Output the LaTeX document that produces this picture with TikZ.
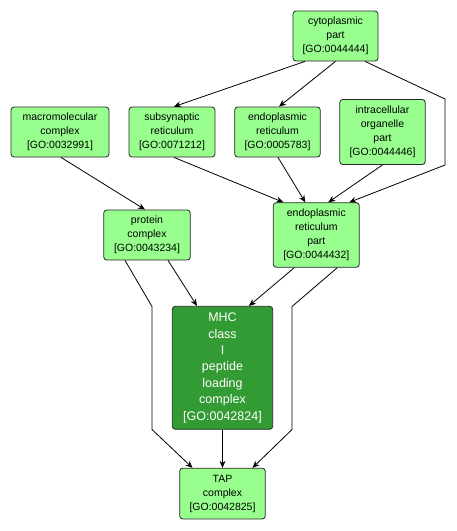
\documentclass[tikz,border=0pt]{standalone}
\usepackage{fontspec}
\setmainfont{Liberation Sans}
\usetikzlibrary{arrows.meta,calc}
\definecolor{lgreen}{RGB}{152,255,143}
\definecolor{dgreen}{RGB}{51,155,51}
\tikzset{
  goterm/.style={draw=black!85, line width=0.8pt, rounded corners=3pt, fill=lgreen,
    align=center, inner sep=0pt, font=\fontsize{10.5}{14}\selectfont},
  goedge/.style={draw=black, line width=0.8pt, -{Stealth[length=7pt,width=6pt]}},
}
\begin{document}
\begin{tikzpicture}[x=1pt,y=-1pt]
\useasboundingbox (0,0) rectangle (456,531);
\node[goterm, minimum width=85pt, minimum height=50pt] (cyto) at (335.5,36) {cytoplasmic\\ part\\ {[GO:0044444]}};
\node[goterm, minimum width=98pt, minimum height=50pt] (macro) at (60,132) {macromolecular\\ complex\\ {[GO:0032991]}};
\node[goterm, minimum width=86pt, minimum height=50pt] (subsyn) at (172,132) {subsynaptic\\ reticulum\\ {[GO:0071212]}};
\node[goterm, minimum width=85.5pt, minimum height=50pt] (er) at (277.5,132) {endoplasmic\\ reticulum\\ {[GO:0005783]}};
\node[goterm, minimum width=85.5pt, minimum height=65pt] (intra) at (382.5,132) {intracellular\\ organelle\\ part\\ {[GO:0044446]}};
\node[goterm, minimum width=86.5pt, minimum height=50pt] (prot) at (147,235) {protein\\ complex\\ {[GO:0043234]}};
\node[goterm, minimum width=86pt, minimum height=64.6pt] (erpart) at (316.3,235) {endoplasmic\\ reticulum\\ part\\ {[GO:0044432]}};
\node[goterm, fill=dgreen, text=white, minimum width=100.4pt, minimum height=123pt,
  font=\fontsize{12.5}{16.4}\selectfont] (mhc) at (222.5,367.8) {MHC\\ class\\ I\\ peptide\\ loading\\ complex\\ {[GO:0042824]}};
\node[goterm, minimum width=85.6pt, minimum height=50.7pt] (tap) at (222.5,493.6) {TAP\\ complex\\ {[GO:0042825]}};

\coordinate (c1) at (445,99);
\coordinate (c2) at (445,165);
\coordinate (p1) at (152,306.5);
\coordinate (p2) at (152,429.5);
\coordinate (e1) at (292,306.5);
\coordinate (e2) at (292,429.5);

\draw[goedge] ([xshift=-30.5pt]cyto.south) -- ([xshift=2pt]subsyn.north);
\draw[goedge] (cyto.south) -- ([xshift=1.5pt]er.north);
\draw[goedge] ([xshift=29.5pt]cyto.south) -- (c1) -- (c2) -- ([xshift=33pt]erpart.north);
\draw[goedge] ([xshift=1pt]macro.south) -- ([xshift=-2pt]prot.north);
\draw[goedge] ([xshift=2pt]subsyn.south) -- ([xshift=-33pt]erpart.north);
\draw[goedge] ([xshift=0.5pt]er.south) -- ([xshift=-11pt]erpart.north);
\draw[goedge] (intra.south) -- ([xshift=12pt]erpart.north);
\draw[goedge] ([xshift=21pt]prot.south) -- ([xshift=-25.5pt]mhc.north);
\draw[goedge] ([xshift=-22pt]prot.south) -- (p1) -- (p2) -- ([xshift=-30pt]tap.north);
\draw[goedge] ([xshift=-22pt]erpart.south) -- ([xshift=26.5pt]mhc.north);
\draw[goedge] ([xshift=21pt]erpart.south) -- (e1) -- (e2) -- ([xshift=30pt]tap.north);
\draw[goedge] (mhc.south) -- (tap.north);
\end{tikzpicture}
\end{document}
